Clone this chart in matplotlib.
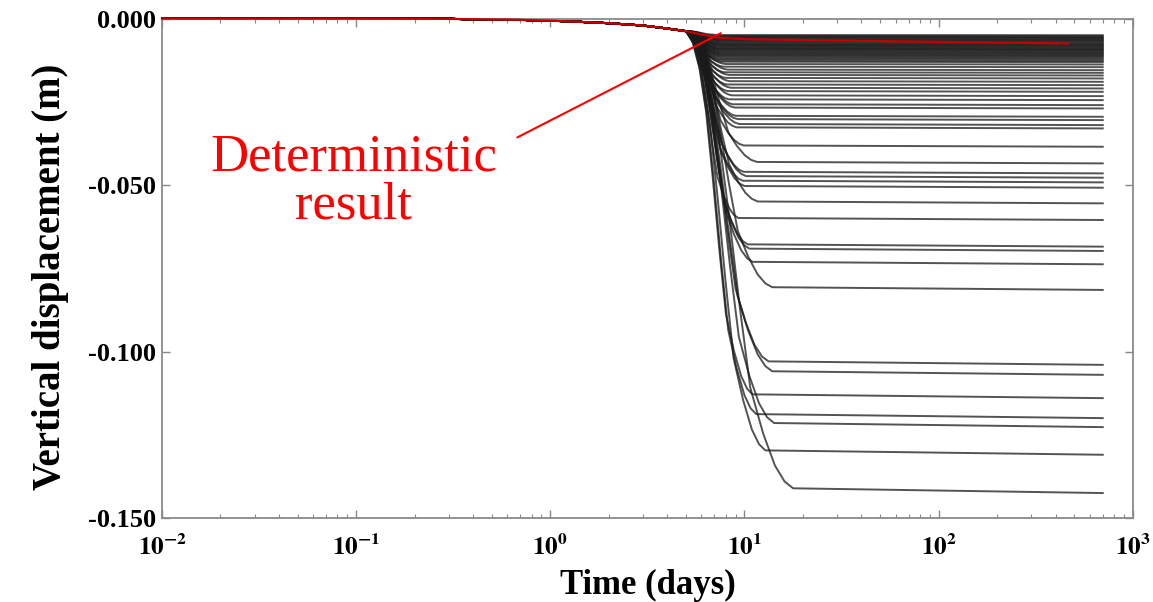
import matplotlib
matplotlib.use("Agg")
import matplotlib.pyplot as plt
from matplotlib.ticker import LogLocator, NullFormatter, FixedLocator

plt.rcParams["font.family"] = ["Liberation Serif", "DejaVu Serif"]
plt.rcParams["mathtext.fontset"] = "stix"

# ---- data ----
# early settlement, shared by every realisation (follows the deterministic path)
ONSET_T = [0.01, 0.1, 0.3, 0.7, 1.2, 2.0, 3.0, 4.0, 5.0]
ONSET_D = [0.0, 0.0, -0.0001, -0.0004, -0.0008, -0.0014, -0.0021, -0.0030, -0.0038]

# deterministic curve after the onset
RED_TAIL_T = [6.0, 7.3, 10.0, 30.0, 100.0, 466.0]
RED_TAIL_D = [-0.0048, -0.0057, -0.0062, -0.0066, -0.0070, -0.0075]

# drop shape: log-time position -> fraction of drop
SHAPE_U = [0.0, 0.1, 0.2, 0.3, 0.4, 0.5, 0.6, 0.72, 0.83, 0.92, 1.0]
SHAPE_F = [0.0, 0.03, 0.1, 0.22, 0.4, 0.6, 0.78, 0.88, 0.95, 0.985, 1.0]

END_DAY = 700.0
PLATEAU_RATIO = 0.99   # displacement at knee / displacement at last day

# dense band of shallow realisations
BAND_END = [-0.0050, -0.0053, -0.0056, -0.0058, -0.0061, -0.0064, -0.0066,
            -0.0069, -0.0072, -0.0075, -0.0078, -0.0080, -0.0083, -0.0086,
            -0.0089, -0.0092, -0.0094, -0.0097, -0.0100, -0.0103, -0.0106,
            -0.0109, -0.0112, -0.0115, -0.0119, -0.0123, -0.0127, -0.0131]
BAND_KNEE = 7.6

# remaining realisations: final displacement (m) and day the plateau starts
MC_END = [-0.0138, -0.0146, -0.0155, -0.0163, -0.0171, -0.0180, -0.0190,
          -0.0200, -0.0210, -0.0220, -0.0233, -0.0245, -0.0260, -0.0270,
          -0.0295, -0.0305, -0.0320, -0.0330, -0.0385, -0.0435, -0.0465,
          -0.0478, -0.0492, -0.0508, -0.0555, -0.0605, -0.0685, -0.0698,
          -0.0738, -0.0815, -0.1040, -0.1070, -0.1140, -0.1200, -0.1227,
          -0.1310, -0.1425]
MC_KNEE = [8.0, 7.8, 8.2, 7.9, 8.3, 8.0, 8.4,
           8.1, 8.5, 8.2, 8.6, 8.3, 8.7, 8.9,
           9.0, 9.2, 9.4, 9.1, 9.9, 11.6, 9.9,
           10.2, 9.8, 10.0, 11.7, 9.3, 10.4, 10.6,
           11.0, 13.9, 13.3, 13.9, 11.0, 11.5, 14.2,
           12.8, 17.8]

Y_TICKS = [0.0, -0.05, -0.10, -0.15]
Y_TICKLABELS = ["0.000", "-0.050", "-0.100", "-0.150"]
X_TICKS = [1e-2, 1e-1, 1e0, 1e1, 1e2, 1e3]
X_TICKLABELS = [r"$\mathbf{10^{-2}}$", r"$\mathbf{10^{-1}}$", r"$\mathbf{10^{0}}$",
                r"$\mathbf{10^{1}}$", r"$\mathbf{10^{2}}$", r"$\mathbf{10^{3}}$"]


def realisation(end_d, knee_t):
    t0, d0 = ONSET_T[-1], ONSET_D[-1]
    knee_d = end_d * PLATEAU_RATIO
    t_drop = [t0 * (knee_t / t0) ** u for u in SHAPE_U[1:]]
    d_drop = [d0 + f * (knee_d - d0) for f in SHAPE_F[1:]]
    return ONSET_T + t_drop + [END_DAY], ONSET_D + d_drop + [end_d]


fig = plt.figure(figsize=(11.53, 6.02), dpi=100)
ax = fig.add_axes([0.1405, 0.1395, 0.842, 0.8297])

ends = BAND_END + MC_END
knees = [BAND_KNEE] * len(BAND_END) + MC_KNEE
for e, k in zip(ends, knees):
    t, d = realisation(e, k)
    ax.plot(t, d, color="#1a1a1a", lw=1.4, alpha=0.75, clip_on=False,
            solid_joinstyle="round")

ax.plot(ONSET_T + RED_TAIL_T, ONSET_D + RED_TAIL_D, color="#c40000", lw=1.6,
        clip_on=False, zorder=5)

ax.set_xscale("log")
ax.set_xlim(1e-2, 1e3)
ax.set_ylim(-0.150, 0.0)

ax.xaxis.set_major_locator(FixedLocator(X_TICKS))
ax.set_xticklabels(X_TICKLABELS, fontsize=18)
ax.xaxis.set_minor_locator(LogLocator(base=10, subs=range(2, 10), numticks=20))
ax.xaxis.set_minor_formatter(NullFormatter())
ax.set_yticks(Y_TICKS)
ax.set_yticklabels(Y_TICKLABELS, fontsize=19, fontweight="bold")

ax.tick_params(which="both", direction="in", top=True, right=True,
               color="#888888")
ax.tick_params(axis="x", which="major", pad=12)
ax.tick_params(axis="y", which="major", pad=4)
ax.tick_params(which="major", length=6, width=1.0)
ax.tick_params(which="minor", length=3, width=0.8)
for s in ax.spines.values():
    s.set_color("#8a8a8a")
    s.set_linewidth(1.3)

ax.set_xlabel("Time (days)", fontsize=25, fontweight="bold", labelpad=6)
ax.set_ylabel("Vertical displacement (m)", fontsize=28, fontweight="bold")
ax.yaxis.set_label_coords(-0.096, 0.4825)

ax.text(0.097, -0.0489, "Deterministic\nresult", color="red", fontsize=38,
        ha="center", va="center", multialignment="center", linespacing=1.0)
ax.annotate("", xy=(7.55, -0.0044), xytext=(0.676, -0.0357),
            arrowprops=dict(arrowstyle="-", color="red", lw=1.5,
                            shrinkA=0, shrinkB=0))

fig.savefig("out.png", dpi=100)
